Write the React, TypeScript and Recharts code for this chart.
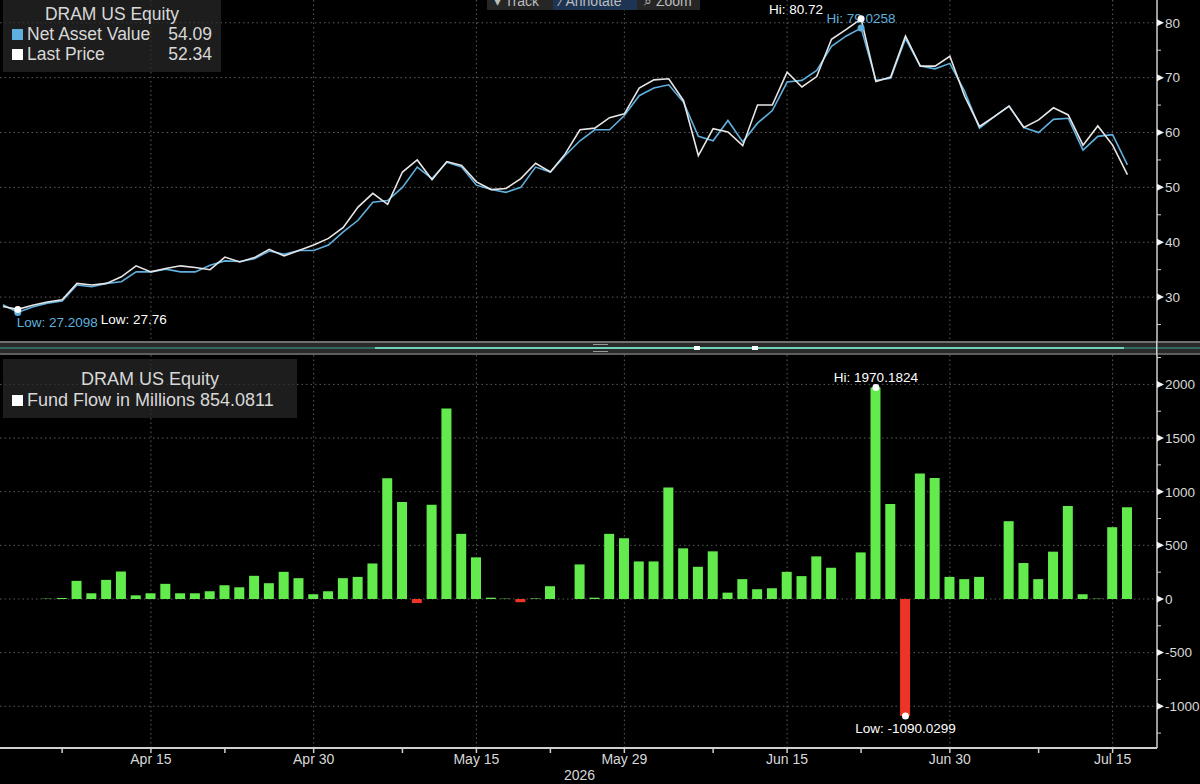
import React from 'react'
import {
  LineChart,
  Line,
  BarChart,
  Bar,
  Cell,
  XAxis,
  YAxis,
  CartesianGrid,
  ReferenceDot,
} from 'recharts'

// weekday slots on the x axis (holidays keep their slot)
const dates = [
  'Apr 1', 'Apr 2', 'Apr 3', 'Apr 6', 'Apr 7', 'Apr 8', 'Apr 9', 'Apr 10',
  'Apr 13', 'Apr 14', 'Apr 15', 'Apr 16', 'Apr 17',
  'Apr 20', 'Apr 21', 'Apr 22', 'Apr 23', 'Apr 24',
  'Apr 27', 'Apr 28', 'Apr 29', 'Apr 30', 'May 1',
  'May 4', 'May 5', 'May 6', 'May 7', 'May 8',
  'May 11', 'May 12', 'May 13', 'May 14', 'May 15',
  'May 18', 'May 19', 'May 20', 'May 21', 'May 22',
  'May 25', 'May 26', 'May 27', 'May 28', 'May 29',
  'Jun 1', 'Jun 2', 'Jun 3', 'Jun 4', 'Jun 5',
  'Jun 8', 'Jun 9', 'Jun 10', 'Jun 11', 'Jun 12',
  'Jun 15', 'Jun 16', 'Jun 17', 'Jun 18', 'Jun 19',
  'Jun 22', 'Jun 23', 'Jun 24', 'Jun 25', 'Jun 26',
  'Jun 29', 'Jun 30', 'Jul 1', 'Jul 2', 'Jul 3',
  'Jul 6', 'Jul 7', 'Jul 8', 'Jul 9', 'Jul 10',
  'Jul 13', 'Jul 14', 'Jul 15', 'Jul 16',
]

const nav = [
  28.6, 27.2098, 28.2, 28.9, 29.3, 32.2, 31.9, 32.5,
  32.8, 34.6, 34.6, 35.1, 34.6,
  34.6, 35.8, 36.6, 36.5, 37.0,
  38.4, 37.8, 38.5, 38.5, 39.5,
  41.9, 44.0, 47.3, 47.6, 50.0,
  53.7, 51.6, 54.6, 53.7, 50.4,
  49.6, 49.1, 50.0, 53.7, 52.8,
  55.8, 58.5, 60.5, 60.5, 63.1,
  66.7, 68.1, 68.7, 65.5, 59.3,
  58.5, 62.2, 58.3, 61.7, 64.0,
  69.2, 69.5, 71.3, 75.7, 77.6,
  79.0258, 69.5, 69.9, 77.1, 72.1,
  71.6, 72.6, 67.5, 60.8, 62.9,
  64.8, 60.9, 60.0, 62.4, 62.6,
  56.8, 59.3, 59.6, 54.09,
]

const lastPrice = [
  28.3, 27.76, 28.5, 29.1, 29.5, 32.5, 32.2, 32.5,
  33.7, 35.7, 34.6, 35.2, 35.7,
  35.4, 35.0, 37.3, 36.4, 37.2,
  38.7, 37.5, 38.5, 39.5, 40.7,
  42.7, 46.4, 48.9, 46.9, 52.8,
  55.0, 51.4, 54.7, 54.0, 51.0,
  49.6, 49.8, 51.6, 54.4, 52.8,
  56.1, 60.5, 60.8, 62.7, 63.4,
  68.1, 69.6, 69.8, 65.8, 55.8,
  60.7, 60.1, 57.6, 65.0, 65.0,
  71.0, 68.3, 70.2, 77.0, 78.8,
  80.72, 69.3, 70.1, 77.6, 72.1,
  72.1, 73.9, 66.6, 61.1, 62.9,
  64.8, 60.9, 62.3, 64.5, 63.2,
  57.7, 61.2, 57.7, 52.34,
]

const fundFlow = [
  0, 0, 0, 3, 10, 169, 53, 178,
  256, 34, 53, 141, 53,
  53, 72, 128, 109, 216,
  147, 253, 194, 44, 72,
  194, 206, 331, 1126, 903,
  -38, 879, 1776, 607, 388,
  12, 3, -30, 5, 119,
  0, 322, 12, 607, 566,
  350, 350, 1038, 472, 300,
  444, 59, 185, 91, 100,
  253, 213, 397, 291, 0,
  434, 1970.1824, 885, -1090.0299, 1170,
  1128, 206, 185, 206, 0,
  725, 335, 185, 441, 866,
  44, 3, 669, 854.0811,
]

const majorDates = ['Apr 15', 'Apr 30', 'May 15', 'May 29', 'Jun 15', 'Jun 30', 'Jul 15']
const minorDates = ['Apr 7', 'Apr 22', 'May 8', 'May 22', 'Jun 8', 'Jun 22', 'Jul 8']

const priceTicks = [25, 30, 35, 40, 45, 50, 55, 60, 65, 70, 75, 80]
const priceMajor = [30, 40, 50, 60, 70, 80]
const flowTicks = [-1250, -1000, -750, -500, -250, 0, 250, 500, 750, 1000, 1250, 1500, 1750, 2000, 2250]
const flowMajor = [-1000, -500, 0, 500, 1000, 1500, 2000]

const FONT = '"Liberation Sans", Arial, sans-serif'
const TEXT = '#d8d8d8'
const BLUE = '#5fb0de'
const WHITE_LINE = '#e6e6e6'
const GREEN = '#63eb4d'
const RED = '#ee3426'
const GRID = '#5c5c5c'
const AXIS = '#cfcfcf'
const X_DOMAIN: [number, number] = [-0.2, 78]

const rows = dates.map((date, k) => ({
  k,
  date,
  nav: nav[k],
  last: lastPrice[k],
  flow: fundFlow[k],
}))

const majorIdx = majorDates.map((d) => dates.indexOf(d))
const minorIdx = minorDates.map((d) => dates.indexOf(d))

function extreme(values: number[], pick: 'max' | 'min') {
  const v = pick === 'max' ? Math.max(...values) : Math.min(...values)
  return { k: values.indexOf(v), v }
}

const navHi = extreme(nav, 'max')
const navLo = extreme(nav, 'min')
const lastHi = extreme(lastPrice, 'max')
const lastLo = extreme(lastPrice, 'min')
const flowHi = extreme(fundFlow, 'max')
const flowLo = extreme(fundFlow, 'min')

function RightTick(props: any) {
  const { x, y, payload, majors } = props
  const v = payload.value
  if (!majors.includes(v)) {
    return <line x1={x} x2={x + 4} y1={y} y2={y} stroke={AXIS} strokeWidth={1} />
  }
  return (
    <g>
      <polygon points={`${x},${y - 3.5} ${x + 7},${y} ${x},${y + 3.5}`} fill="#f2f2f2" />
      <text x={x + 8} y={y} dy="0.36em" fill={TEXT} fontSize={13.5} fontFamily={FONT}>
        {v}
      </text>
    </g>
  )
}

function DateTick(props: any) {
  const { x, y, payload } = props
  const isMajor = majorIdx.includes(payload.value)
  return (
    <g>
      <line x1={x} x2={x} y1={y} y2={y + 5} stroke={AXIS} strokeWidth={1.5} />
      {isMajor && (
        <text x={x} y={y + 16} textAnchor="middle" fill={TEXT} fontSize={14} fontFamily={FONT}>
          {dates[payload.value]}
        </text>
      )}
    </g>
  )
}

function marker(color: string, text: string, dx: number, dy: number, anchor: string) {
  return (p: any) => (
    <g>
      <circle cx={p.cx} cy={p.cy} r={3.5} fill={color} />
      <text
        x={p.cx + dx}
        y={p.cy + dy}
        dy="0.36em"
        textAnchor={anchor}
        fill={color}
        fontSize={13.5}
        fontFamily={FONT}
      >
        {text}
      </text>
    </g>
  )
}

function Toolbar() {
  const item = { padding: '0 7px', display: 'inline-block' }
  return (
    <div
      style={{
        position: 'absolute',
        left: 487,
        top: -7,
        height: 17,
        width: 213,
        background: '#262626',
        color: '#bdbdbd',
        fontSize: 14,
        lineHeight: '17px',
        whiteSpace: 'nowrap',
        overflow: 'hidden',
      }}
    >
      <span style={{ ...item, width: 52 }}>▾ Track</span>
      <span style={{ ...item, background: '#1d3452', width: 70 }}>⁄ Annotate</span>
      <span style={{ ...item }}>⌕ Zoom</span>
    </div>
  )
}

function Swatch({ color }: { color: string }) {
  return (
    <span
      style={{
        display: 'inline-block',
        width: 11,
        height: 11,
        background: color,
        marginRight: 4,
        verticalAlign: 'middle',
        position: 'relative',
        top: -1,
      }}
    />
  )
}

function Separator() {
  return (
    <svg style={{ position: 'absolute', left: 0, top: 341 }} width={1200} height={14}>
      <rect x={0} y={0} width={1200} height={14} fill="#2a2a2a" />
      <rect x={0} y={0} width={1200} height={2} fill="#707070" />
      <rect x={0} y={12} width={1200} height={2} fill="#5e5e5e" />
      <rect x={0} y={6} width={1200} height={2} fill="#2f6a5e" />
      <rect x={375} y={6} width={749} height={2} fill="#6fd3b8" />
      <rect x={593} y={3} width={15} height={1} fill="#9a9a9a" />
      <rect x={593} y={10} width={15} height={1} fill="#9a9a9a" />
      <rect x={694} y={5} width={6} height={4} fill="#ffffff" />
      <rect x={752} y={5} width={6} height={4} fill="#ffffff" />
      <rect x={1156} y={0} width={1.5} height={14} fill={AXIS} />
    </svg>
  )
}

const legendBox = {
  position: 'absolute' as const,
  left: 3,
  background: 'rgba(40,40,40,0.72)',
  color: TEXT,
  fontSize: 17.5,
  lineHeight: '20px',
  whiteSpace: 'nowrap' as const,
}

export default function App() {
  return (
    <div
      style={{
        position: 'absolute',
        left: 0,
        top: 0,
        width: 1200,
        height: 784,
        background: '#000',
        overflow: 'hidden',
        fontFamily: FONT,
      }}
    >
      <div style={{ position: 'absolute', left: 0, top: 0 }}>
        <LineChart width={1200} height={341} data={rows} margin={{ top: 0, right: 0, bottom: 0, left: 0 }}>
          <CartesianGrid
            stroke={GRID}
            strokeDasharray="1.5 3"
            horizontalValues={priceMajor}
            verticalValues={majorIdx}
          />
          <XAxis type="number" dataKey="k" domain={X_DOMAIN} hide allowDataOverflow />
          <YAxis
            orientation="right"
            width={43}
            domain={[22, 84.15]}
            allowDataOverflow
            ticks={priceTicks}
            interval={0}
            tickLine={false}
            tickSize={0}
            tickMargin={0}
            axisLine={{ stroke: AXIS, strokeWidth: 1.5 }}
            tick={(p: any) => <RightTick {...p} majors={priceMajor} />}
          />
          <Line
            dataKey="nav"
            stroke={BLUE}
            strokeWidth={1.6}
            dot={false}
            activeDot={false}
            isAnimationActive={false}
          />
          <Line
            dataKey="last"
            stroke={WHITE_LINE}
            strokeWidth={1.6}
            dot={false}
            activeDot={false}
            isAnimationActive={false}
          />
          <ReferenceDot
            x={navLo.k}
            y={navLo.v}
            shape={marker(BLUE, `Low: ${navLo.v}`, -1, 10, 'start')}
          />
          <ReferenceDot
            x={lastLo.k}
            y={lastLo.v}
            shape={marker('#ffffff', `Low: ${lastLo.v}`, 83, 10, 'start')}
          />
          <ReferenceDot
            x={navHi.k}
            y={navHi.v}
            shape={marker(BLUE, `Hi: ${navHi.v}`, 0, -10, 'middle')}
          />
          <ReferenceDot
            x={lastHi.k}
            y={lastHi.v}
            shape={marker('#ffffff', `Hi: ${lastHi.v}`, -38, -10, 'end')}
          />
        </LineChart>
      </div>

      <Separator />

      <div style={{ position: 'absolute', left: 0, top: 355 }}>
        <BarChart width={1200} height={429} data={rows} margin={{ top: 0, right: 0, bottom: 0, left: 0 }}>
          <CartesianGrid
            stroke={GRID}
            strokeDasharray="1.5 3"
            horizontalValues={flowMajor}
            verticalValues={majorIdx}
          />
          <XAxis
            type="number"
            dataKey="k"
            domain={X_DOMAIN}
            allowDataOverflow
            ticks={[...majorIdx, ...minorIdx].sort((a, b) => a - b)}
            interval={0}
            height={36}
            tickLine={false}
            tickSize={0}
            tickMargin={0}
            axisLine={{ stroke: AXIS, strokeWidth: 2 }}
            tick={(p: any) => <DateTick {...p} />}
          />
          <YAxis
            orientation="right"
            width={43}
            domain={[-1389, 2274]}
            allowDataOverflow
            ticks={flowTicks}
            interval={0}
            tickLine={false}
            tickSize={0}
            tickMargin={0}
            axisLine={{ stroke: AXIS, strokeWidth: 1.5 }}
            tick={(p: any) => <RightTick {...p} majors={flowMajor} />}
          />
          <Bar dataKey="flow" barSize={10} isAnimationActive={false} activeBar={false}>
            {rows.map((r) => (
              <Cell key={r.k} fill={r.flow < 0 ? RED : GREEN} />
            ))}
          </Bar>
          <ReferenceDot
            x={flowHi.k}
            y={flowHi.v}
            shape={marker('#ffffff', `Hi: ${flowHi.v}`, 0, -10, 'middle')}
          />
          <ReferenceDot
            x={flowLo.k}
            y={flowLo.v}
            shape={marker('#ffffff', `Low: ${flowLo.v}`, 0, 12, 'middle')}
          />
        </BarChart>
        <div
          style={{
            position: 'absolute',
            left: 564,
            top: 412,
            color: TEXT,
            fontSize: 14,
          }}
        >
          2026
        </div>
      </div>

      <div style={{ ...legendBox, top: 0, width: 218, height: 72 }}>
        <div style={{ textAlign: 'center', marginTop: 4 }}>DRAM US Equity</div>
        <div style={{ display: 'flex', paddingLeft: 9, paddingRight: 9 }}>
          <span style={{ flex: 1 }}>
            <Swatch color={BLUE} />
            Net Asset Value
          </span>
          <span>{nav[nav.length - 1]}</span>
        </div>
        <div style={{ display: 'flex', paddingLeft: 9, paddingRight: 9 }}>
          <span style={{ flex: 1 }}>
            <Swatch color="#ffffff" />
            Last Price
          </span>
          <span>{lastPrice[lastPrice.length - 1]}</span>
        </div>
      </div>

      <div style={{ ...legendBox, top: 359, width: 294, height: 59, fontSize: 18, lineHeight: '21px' }}>
        <div style={{ textAlign: 'center', marginTop: 10 }}>DRAM US Equity</div>
        <div style={{ paddingLeft: 9 }}>
          <Swatch color="#ffffff" />
          Fund Flow in Millions {fundFlow[fundFlow.length - 1]}
        </div>
      </div>

      <Toolbar />
    </div>
  )
}
